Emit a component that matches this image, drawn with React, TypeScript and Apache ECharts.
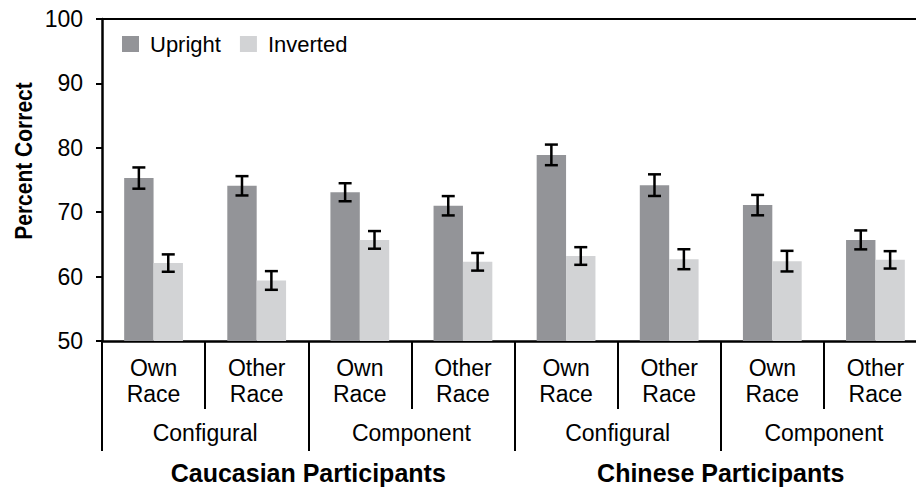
import React, { useEffect, useRef } from "react";
import * as echarts from "echarts";

const participants = ["Caucasian Participants", "Chinese Participants"];
const conditions = ["Configural", "Component", "Configural", "Component"];
const races = ["Own\nRace", "Other\nRace", "Own\nRace", "Other\nRace", "Own\nRace", "Other\nRace", "Own\nRace", "Other\nRace"];
const seriesNames = ["Upright", "Inverted"];
const upright = [75.3, 74.1, 73.1, 71.0, 78.9, 74.2, 71.1, 65.7];
const uprightErr = [1.65, 1.5, 1.4, 1.5, 1.6, 1.68, 1.58, 1.47];
const inverted = [62.1, 59.4, 65.7, 62.3, 63.2, 62.7, 62.4, 62.6];
const invertedErr = [1.35, 1.45, 1.37, 1.37, 1.37, 1.55, 1.6, 1.35];
const yTicks = { min: 50, max: 100, interval: 10 };

const FONT = "'Liberation Sans', Arial, Helvetica, sans-serif";
const CAT_GAP = 0.43;

function errorSeries(values: number[], errs: number[], sign: number) {
  return {
    type: "custom",
    xAxisIndex: 0,
    yAxisIndex: 0,
    z: 10,
    encode: { x: 0, y: 1 },
    data: values.map((v, i) => [i, v, errs[i]]),
    renderItem: (_p: any, api: any) => {
      const idx = api.value(0);
      const v = api.value(1);
      const e = api.value(2);
      const band = api.size([1, 0])[0];
      const off = ((band * (1 - CAT_GAP)) / 4) * sign;
      const top = api.coord([idx, v + e]);
      const bot = api.coord([idx, v - e]);
      const x = top[0] + off;
      const hw = 6.5;
      const st = { stroke: "#000", lineWidth: 2.5 };
      return {
        type: "group",
        children: [
          { type: "line", shape: { x1: x, y1: top[1], x2: x, y2: bot[1] }, style: st },
          { type: "line", shape: { x1: x - hw, y1: top[1], x2: x + hw, y2: top[1] }, style: st },
          { type: "line", shape: { x1: x - hw, y1: bot[1], x2: x + hw, y2: bot[1] }, style: st },
        ],
      };
    },
  };
}

export default function App() {
  const ref = useRef<HTMLDivElement>(null);
  useEffect(() => {
    if (!ref.current) return;
    const chart = echarts.init(ref.current, null, { renderer: "svg" });
    const raceKeys = races.map((r, i) => `${i}|${r}`);
    const condKeys = conditions.map((c, i) => `${i}|${c}`);
    const stripKey = (v: string) => v.split("|")[1];
    chart.setOption({
      animation: false,
      backgroundColor: "#fff",
      textStyle: { fontFamily: FONT },
      grid: { left: 102, top: 19, width: 825, height: 322, containLabel: false },
      legend: {
        data: seriesNames,
        left: 122,
        top: 33,
        padding: 0,
        itemWidth: 17,
        itemHeight: 16,
        itemGap: 19,
        icon: "rect",
        textStyle: { fontFamily: FONT, fontSize: 22, color: "#000", padding: [0, 0, 0, 6] },
      },
      graphic: [
        {
          type: "text",
          x: 24,
          y: 161,
          rotation: Math.PI / 2,
          scaleY: 1.15,
          style: {
            text: "Percent Correct",
            fontFamily: FONT,
            fontSize: 21,
            fontWeight: "bold",
            fill: "#000",
            align: "center",
            verticalAlign: "middle",
          },
        },
      ],
      xAxis: [
        {
          type: "category",
          position: "bottom",
          data: raceKeys,
          axisLine: { show: true, lineStyle: { color: "#000", width: 2.5 } },
          axisTick: { show: true, length: 68, interval: 0, lineStyle: { color: "#000", width: 2 } },
          axisLabel: {
            interval: 0,
            margin: 14,
            formatter: stripKey,
            fontFamily: FONT,
            fontSize: 23,
            lineHeight: 26,
            color: "#000",
          },
          splitLine: { show: false },
        },
        {
          type: "category",
          position: "bottom",
          data: condKeys,
          axisLine: { show: false },
          axisTick: { show: true, length: 110, interval: 0, lineStyle: { color: "#000", width: 2 } },
          axisLabel: {
            interval: 0,
            margin: 79,
            formatter: stripKey,
            fontFamily: FONT,
            fontSize: 23,
            lineHeight: 26,
            color: "#000",
          },
          splitLine: { show: false },
        },
        {
          type: "category",
          position: "bottom",
          data: participants,
          axisLine: { show: false },
          axisTick: { show: false },
          axisLabel: {
            interval: 0,
            margin: 119,
            fontFamily: FONT,
            fontSize: 25,
            fontWeight: "bold",
            color: "#000",
          },
          splitLine: { show: false },
        },
        {
          type: "category",
          position: "top",
          data: raceKeys,
          axisLine: { show: true, lineStyle: { color: "#000", width: 2 } },
          axisTick: { show: false },
          axisLabel: { show: false },
          splitLine: { show: false },
        },
      ],
      yAxis: {
        type: "value",
        min: yTicks.min,
        max: yTicks.max,
        interval: yTicks.interval,
        axisLine: { show: true, lineStyle: { color: "#000", width: 2.5 } },
        axisTick: { show: true, length: 6, lineStyle: { color: "#000", width: 2 } },
        axisLabel: { margin: 19, fontFamily: FONT, fontSize: 23, color: "#000" },
        splitLine: { show: false },
      },
      series: [
        {
          name: seriesNames[0],
          type: "bar",
          xAxisIndex: 0,
          data: upright,
          barGap: "0%",
          barCategoryGap: `${CAT_GAP * 100}%`,
          itemStyle: { color: "#939498" },
        },
        {
          name: seriesNames[1],
          type: "bar",
          xAxisIndex: 0,
          data: inverted,
          barGap: "0%",
          barCategoryGap: `${CAT_GAP * 100}%`,
          itemStyle: { color: "#d2d3d5" },
        },
        errorSeries(upright, uprightErr, -1),
        errorSeries(inverted, invertedErr, 1),
      ],
    });
    return () => chart.dispose();
  }, []);
  return (
    <div style={{ position: "fixed", left: 0, top: 0, width: 916, height: 497, overflow: "hidden", background: "#fff" }}>
      <div ref={ref} style={{ width: 950, height: 497 }} />
    </div>
  );
}
